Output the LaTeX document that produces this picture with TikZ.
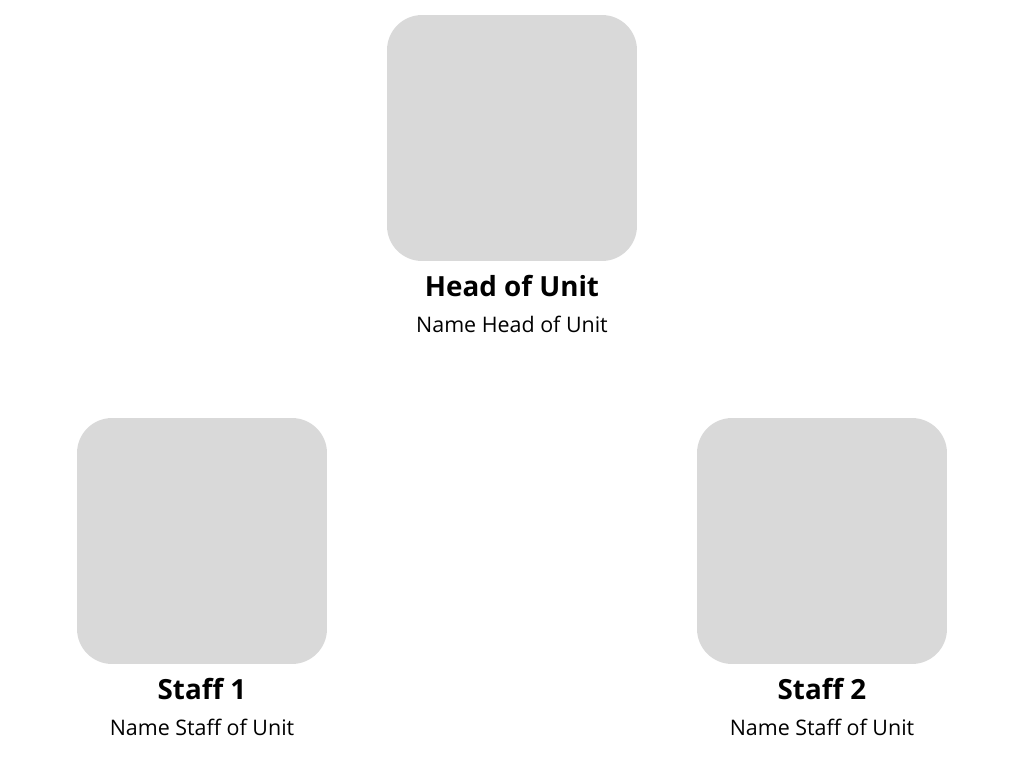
\documentclass[tikz,border=0pt]{standalone}
\usepackage{fontspec}
\setmainfont{Open Sans}
\usetikzlibrary{positioning}

\begin{document}
\begin{tikzpicture}[
    x=0.02cm, y=-0.02cm,
    photo/.style={fill=gray!30, rounded corners=0.7cm, minimum width=5cm, minimum height=4.92cm, inner sep=0pt},
    role/.style={font=\fontsize{15.8}{18}\selectfont\bfseries, anchor=base, inner sep=0pt},
    person/.style={font=\fontsize{12.2}{14}\selectfont, anchor=base, inner sep=0pt}
]
    \useasboundingbox (0,0) rectangle (1024,768);
    % head
    \node[photo] (head) at (512,138) {};
    \node[role] (headrole) at (512,296) {Head of Unit};
    \node[person] (headname) at (512,332) {Name Head of Unit};
    % staff
    \node[photo] (staffa) at (202,541) {};
    \node[role] (staffarole) at (202,699) {Staff 1};
    \node[person] (staffaname) at (202,735) {Name Staff of Unit};
    \node[photo] (staffb) at (822,541) {};
    \node[role] (staffbrole) at (822,699) {Staff 2};
    \node[person] (staffbname) at (822,735) {Name Staff of Unit};
\end{tikzpicture}
\end{document}
